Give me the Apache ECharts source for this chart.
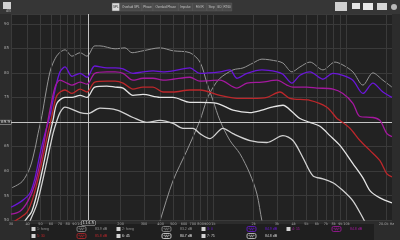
<!DOCTYPE html>
<html><head><meta charset="utf-8">
<script src="https://cdn.jsdelivr.net/npm/echarts@6/dist/echarts.min.js"></script>
<style>html,body{margin:0;padding:0;background:#2c2c2c}#c{width:400px;height:240px}</style>
</head><body><div id="c"></div><script>
// === 軸刻度 ===
const FREQ_TICKS=[30,40,50,60,70,80,90,100,200,300,400,500,600,700,800,900,1000,2000,3000,4000,5000,6000,7000,8000,9000,10000,20000];
const CURSOR_FREQ=114.5, CURSOR_DB=69.9;

// === 曲線資料 [Hz, dB] ===
const CURVE_1=[[30,56.5],[36.3,57.8],[41.7,60.7],[45.5,64.6],[47.9,67.6],[51.3,71.3],[55,76.1],[58.9,80.2],[62.1,82.0],[67.7,83.8],[76.4,84.7],[86.3,83.4],[99.1,84.1],[111.8,83.4],[128,85.5],[140,85.5],[182,84.9],[216,85.1],[244,84.1],[295,84.5],[396,85.1],[496,84.5],[665,84.1],[791,82.2],[893,77.9],[991,74.4],[1118,70.3],[1330,66.2],[1581,63.5],[1880,59.4],[2122,55.3],[2314,49.8],[2500,46]];
const CURVE_2=[[360,46],[396,49.8],[496,58.0],[632,64.2],[791,70.3],[893,74.6],[991,77.0],[1118,78.9],[1401,80.6],[1666,81.0],[1980,82.0],[2314,82.8],[3000,82.4],[3328,82.0],[3891,80.2],[4467,81.2],[5313,82.2],[6655,80.6],[8190,82.2],[9406,81.6],[11180,80.2],[13300,77.5],[15810,80.0],[18800,78.5],[21970,77.1]];
const CURVE_3=[[30,52.6],[36.3,53.9],[41.7,55.5],[45.5,58.6],[49.6,63.5],[54,67.6],[58.9,71.3],[64.3,76.5],[70.1,80.2],[76.4,81.2],[86.3,79.3],[99.1,79.9],[111.8,79.1],[128,81.4],[158,81.0],[182,81.0],[209,80.8],[248,79.9],[295,80.2],[351,80.4],[417,80.2],[496,80.4],[665,81.0],[791,79.9],[1118,80.2],[1330,80.6],[1501,78.9],[1785,79.9],[2314,80.6],[3000,80.2],[3328,79.7],[3891,77.9],[4467,79.5],[5313,80.2],[6655,78.7],[7910,79.9],[9406,79.5],[11180,78.5],[13300,75.8],[15810,77.9],[18800,76.1],[21970,75.0]];
const CURVE_4=[[30,51.2],[35.1,51.8],[40.3,53.9],[45.5,57.4],[51.3,63.5],[56.9,70.3],[64.3,77.1],[70.1,78.5],[79.1,77.9],[86.3,77.5],[99.1,78.1],[111.8,77.7],[128,79.9],[158,80.2],[182,80.2],[209,79.9],[248,78.5],[295,78.9],[351,78.9],[417,78.5],[496,78.7],[665,79.1],[791,78.3],[1118,78.5],[1501,76.9],[1785,77.9],[2314,78.1],[3000,78.5],[3566,77.5],[3958,77.1],[5044,77.1],[5997,76.9],[7910,76.7],[9406,75.8],[11180,73.8],[12630,71.1],[15810,70.9],[17850,70.3],[20150,67.6],[21970,67.0]];
const CURVE_5=[[30,49.3],[33.9,50.2],[39.6,51.6],[43.9,54.5],[49.6,60.1],[55.9,66.8],[61,71.3],[66.5,75.4],[76.4,76.5],[86.3,75.8],[99.1,76.7],[111.8,76.1],[128,78.1],[158,78.3],[182,78.3],[209,77.9],[248,76.7],[295,77.1],[351,77.1],[417,76.1],[496,76.1],[665,76.5],[791,76.5],[1118,75.4],[1501,74.8],[1980,74.8],[2524,75.0],[3159,76.1],[3757,74.8],[5313,74.4],[7129,73.0],[8479,70.7],[8932,70.3],[10620,68.7],[12630,66.2],[15010,64.2],[17850,62.1],[20150,59.4],[21970,58.8]];
const CURVE_6=[[35,47.5],[38.2,49.8],[43.1,51.8],[49.6,58.0],[58.9,67.6],[62.1,70.3],[66.5,73.8],[76.4,75.0],[86.3,75.0],[99.1,75.4],[111.8,75.0],[128,77.1],[158,77.3],[182,77.1],[209,76.9],[248,75.4],[295,75.6],[396,75.0],[496,75.0],[665,74.0],[791,74.0],[1062,73.8],[1401,72.4],[1880,71.9],[2314,72.4],[2751,73.0],[3328,73.4],[3958,71.9],[4467,70.7],[5313,69.9],[6318,69.1],[7509,67.2],[8932,65.2],[11180,61.5],[13300,58.6],[15010,56.0],[17850,54.5],[21970,53.5]];
const CURVE_7=[[38,47],[41.7,49.8],[47,53.3],[54,60.1],[62.1,67.6],[66.5,70.3],[70.1,71.9],[76.4,73.0],[99.1,71.9],[113.8,71.7],[140,72.8],[188,72.4],[248,70.9],[316,69.9],[396,70.3],[496,69.7],[589,68.7],[701,68.7],[791,67.6],[940,66.6],[1178,68.7],[1401,67.6],[1880,66.2],[2524,65.8],[3328,67.2],[3958,66.2],[4706,62.7],[5596,59.0],[6655,58.4],[7910,57.6],[9406,56.0],[11180,53.9],[13300,50.4],[14250,48.8]];

// === 圖例 ===
const LEGEND_NAMES=['1: foreg','2: foreg','3: 0','4: 15','5: 30','6: 45','7: 75'];
const LEGEND_LEVELS=['83.9 dB','83.2 dB','84.9 dB','84.8 dB','85.8 dB','80.7 dB','84.8 dB'];
const COLORS=['#959595','#959595','#6a16d8','#a5189f','#bc272b','#e4e4e4','#d2d2d2'];
const CURVES=[CURVE_1,CURVE_2,CURVE_3,CURVE_4,CURVE_5,CURVE_6,CURVE_7];
const TAB_NAMES=['SPL','Overlaid SPL','Phase','Overlaid Phase','Impulse','Filt IR','Step','GD','RT60'];

function fmtFreq(v){
  if(v>=20000)return '20.0k Hz';
  return v>=1000?(v/1000)+'k':String(v);
}

// === 工具列與圖例表 (graphic) ===
const g=[];
g.push({type:'rect',shape:{x:0,y:0,width:400,height:14},style:{fill:'#363636'}});
g.push({type:'rect',shape:{x:3,y:2,width:8,height:7},style:{fill:'#cfcfcf'}});
let tx=112;
TAB_NAMES.forEach(function(n,i){
  var w=n.length*1.6+3;
  g.push({type:'rect',shape:{x:tx,y:3,width:w,height:8},style:{fill:i===0?'#dcdcdc':'#4a4a4a',stroke:'#5e5e5e',lineWidth:0.5}});
  g.push({type:'text',x:tx+w/2,y:7,style:{text:n,fontSize:3,fill:i===0?'#222':'#c4c4c4',align:'center',verticalAlign:'middle'}});
  tx+=w;
});
g.push({type:'rect',shape:{x:335,y:2,width:12,height:9},style:{fill:'#cfcfcf'}});
g.push({type:'rect',shape:{x:352,y:3,width:8,height:6},style:{fill:'#e2e2e2'}});
g.push({type:'rect',shape:{x:363,y:3,width:10,height:7},style:{fill:'#e8e8e8'}});
g.push({type:'rect',shape:{x:377,y:3,width:10,height:7},style:{fill:'#d6d6d6'}});
g.push({type:'circle',shape:{cx:394,cy:7,r:3},style:{fill:'#b8b8b8'}});
g.push({type:'rect',shape:{x:30,y:224,width:344,height:16},style:{fill:'#1f1f1f'}});
LEGEND_NAMES.forEach(function(n,i){
  var col=i<4?i:i-4,row=i<4?0:1;
  var cx=33+col*85,cy=229+row*7,c=COLORS[i];
  g.push({type:'rect',shape:{x:cx-1.5,y:cy-2,width:4,height:4},style:{fill:'#d4d4d4'}});
  g.push({type:'text',x:cx+4,y:cy,style:{text:n,fontSize:3.5,fill:c,verticalAlign:'middle'}});
  g.push({type:'rect',shape:{x:cx+44,y:cy-2.5,width:9,height:5,r:1.5},style:{fill:'none',stroke:c,lineWidth:0.8}});
  g.push({type:'polyline',shape:{points:[[cx+45.5,cy],[cx+46.5,cy-1.2],[cx+47.5,cy+1.2],[cx+48.5,cy-1.2],[cx+49.5,cy+1.2],[cx+50.5,cy-1.2],[cx+51.5,cy]]},style:{stroke:c,lineWidth:0.5,fill:'none'}});
  g.push({type:'text',x:cx+62,y:cy,style:{text:LEGEND_LEVELS[i],fontSize:3.5,fill:c,verticalAlign:'middle'}});
});

const boxLabel={fontSize:4,color:'#dcdcdc',backgroundColor:'#2c2c2c',borderColor:'#bdbdbd',borderWidth:0.5,padding:[0,1]};

const series=[{
  name:'grid',type:'line',data:[],z:1,silent:true,
  markLine:{silent:true,symbol:'none',animation:false,label:{show:false},
    lineStyle:{color:'#3a3a3a',type:'solid',width:1},
    data:FREQ_TICKS.map(function(f){return{xAxis:f}})}
},{
  name:'cursor',type:'line',data:[],z:2,silent:true,
  markLine:{silent:true,symbol:'none',animation:false,
    lineStyle:{color:'#c4c4c4',type:'solid',width:1},
    data:[
      {xAxis:CURSOR_FREQ,label:Object.assign({show:true,position:'start',distance:1,formatter:String(CURSOR_FREQ)},boxLabel)},
      {yAxis:CURSOR_DB,label:Object.assign({show:true,position:'start',distance:0,formatter:String(CURSOR_DB)},boxLabel)}
    ]}
}];
CURVES.forEach(function(d,i){
  series.push({name:LEGEND_NAMES[i],type:'line',data:d,showSymbol:false,smooth:0.3,z:3+i,
    clip:true,animation:false,
    lineStyle:{color:COLORS[i],width:i<2?1:1.3}});
});

const chart=echarts.init(document.getElementById('c'));
chart.setOption({
  backgroundColor:'#2c2c2c',
  animation:false,
  textStyle:{fontFamily:'DejaVu Sans'},
  grid:{left:11,right:8,top:14,bottom:20,show:true,backgroundColor:'#222222',borderWidth:0},
  xAxis:{type:'log',logBase:10,min:30,max:22000,
    axisLine:{show:false},axisTick:{show:false},splitLine:{show:false},minorSplitLine:{show:false},
    axisLabel:{customValues:FREQ_TICKS,formatter:fmtFreq,fontSize:3.5,color:'#a6a6a6',margin:2,
      showMinLabel:true,showMaxLabel:true,hideOverlap:false}},
  yAxis:{type:'value',min:50,max:92,interval:5,name:'dB',nameLocation:'end',nameGap:1,
    nameTextStyle:{fontSize:4,color:'#a6a6a6',align:'right'},
    axisLine:{show:false},axisTick:{show:false},
    axisLabel:{fontSize:4,color:'#a6a6a6',margin:2,showMaxLabel:false},
    splitLine:{lineStyle:{color:'#3a3a3a',width:1}}},
  series:series,
  graphic:g
});
</script></body></html>
